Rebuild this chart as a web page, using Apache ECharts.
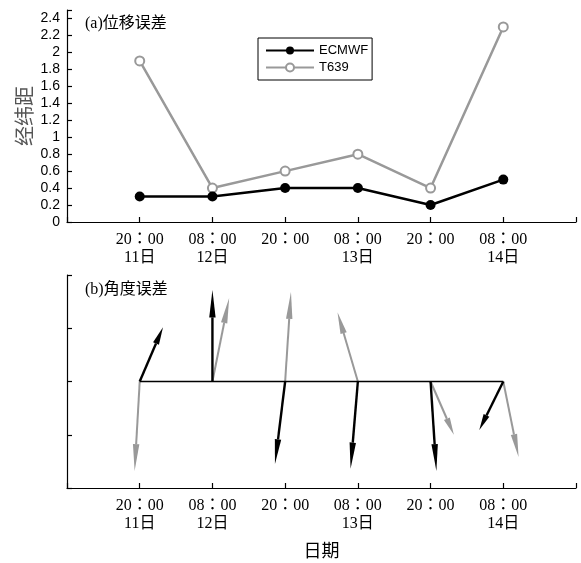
<!DOCTYPE html>
<html>
<head>
<meta charset="utf-8">
<script src="https://cdn.jsdelivr.net/npm/echarts@6/dist/echarts.min.js"></script>
<style>html,body{margin:0;padding:0;background:#fff;}#c{width:581px;height:563px;}</style>
</head>
<body>
<div id="c"></div>
<script>
// ---- data ----
var xPos = [1, 2, 3, 4, 5, 6];
var times = ['20：00', '08：00', '20：00', '08：00', '20：00', '08：00'];
var days = ['11日', '12日', '', '13日', '', '14日'];
var ecmwf = [0.3, 0.3, 0.4, 0.4, 0.2, 0.5];
var t639 = [1.9, 0.4, 0.6, 0.8, 0.4, 2.3];
// angle-error vectors (u = horizontal, v = vertical), in axis units
var ecU = [0.32, 0.00, -0.14, -0.10, 0.08, -0.33];
var ecV = [1.02, 1.72, -1.55, -1.64, -1.68, -0.91];
var tU = [-0.07, 0.23, 0.08, -0.28, 0.32, 0.21];
var tV = [-1.68, 1.57, 1.68, 1.30, -1.00, -1.42];

var GRAY = '#999999';
var serifCJK = 'Liberation Serif, Noto Sans CJK JP';

function tickLabel(v) {
  var i = xPos.indexOf(Math.round(v));
  if (i < 0 || Math.abs(v - Math.round(v)) > 1e-6) return '';
  return days[i] ? times[i] + '\n' + days[i] : times[i];
}

function zip(xs, ys) { return xs.map(function (x, i) { return [x, ys[i]]; }); }
function vecData(us, vs) { return xPos.map(function (x, i) { return [x, 0, us[i], vs[i]]; }); }

function arrowRender(color, lw) {
  return function (params, api) {
    var x0 = api.value(0), y0 = api.value(1), u = api.value(2), v = api.value(3);
    var p0 = api.coord([x0, y0]);
    var p1 = api.coord([x0 + u, y0 + v]);
    var dx = p1[0] - p0[0], dy = p1[1] - p0[1];
    var len = Math.sqrt(dx * dx + dy * dy);
    var ux = dx / len, uy = dy / len;
    var hl = len * 0.3, hw = 3.2;
    var bx = p1[0] - ux * hl, by = p1[1] - uy * hl;
    return {
      type: 'group',
      children: [
        { type: 'line', shape: { x1: p0[0], y1: p0[1], x2: bx, y2: by }, style: { stroke: color, lineWidth: lw } },
        { type: 'polygon', shape: { points: [[p1[0], p1[1]], [bx - uy * hw, by + ux * hw], [bx + uy * hw, by - ux * hw]] }, style: { fill: color } }
      ]
    };
  };
}

function axisLineStyle() { return { show: true, onZero: false, lineStyle: { color: '#000', width: 1.2 } }; }
var tickStyle = { inside: true, length: 5, lineStyle: { color: '#000', width: 1.2 } };
var xLabel = {
  formatter: tickLabel, color: '#000', fontFamily: serifCJK, fontSize: 16, lineHeight: 18, margin: 9
};

var chart = echarts.init(document.getElementById('c'));
chart.setOption({
  animation: false,
  backgroundColor: '#fff',
  title: [
    { text: '(a)位移误差', left: 85, top: 16, padding: 0, textStyle: { fontFamily: serifCJK, fontSize: 16, fontWeight: 'normal', color: '#000' } },
    { text: '(b)角度误差', left: 85, top: 282, padding: 0, textStyle: { fontFamily: serifCJK, fontSize: 16, fontWeight: 'normal', color: '#000' } }
  ],
  legend: {
    orient: 'vertical', left: 258, top: 38, itemWidth: 48, itemHeight: 10, itemGap: 4,
    padding: [6, 4, 6, 7], borderColor: '#000', borderWidth: 1,
    textStyle: { fontFamily: 'Liberation Sans', fontSize: 13, color: '#000' },
    data: ['ECMWF', 'T639']
  },
  grid: [
    { left: 67, right: 5, top: 10, height: 212 },
    { left: 67, right: 5, top: 275, height: 213 }
  ],
  xAxis: [
    { gridIndex: 0, type: 'value', min: 0, max: 7, interval: 1, axisLine: axisLineStyle(), axisTick: tickStyle, axisLabel: xLabel, splitLine: { show: false } },
    { gridIndex: 1, type: 'value', min: 0, max: 7, interval: 1, axisLine: axisLineStyle(), axisTick: tickStyle, axisLabel: xLabel, splitLine: { show: false },
      name: '日期', nameLocation: 'middle', nameGap: 55, nameMoveOverlap: false, nameTextStyle: { fontFamily: serifCJK, fontSize: 18, color: '#000' } }
  ],
  yAxis: [
    { gridIndex: 0, type: 'value', min: 0, max: 2.5, interval: 0.2, axisLine: axisLineStyle(), axisTick: tickStyle,
      splitLine: { show: false },
      axisLabel: { color: '#000', fontFamily: 'Liberation Sans', fontSize: 14, margin: 7,
        formatter: function (v) { var k = v * 5; return Math.abs(k - Math.round(k)) < 1e-6 ? String(+v.toFixed(1)) : ''; } },
      name: '经纬距', nameLocation: 'middle', nameRotate: 90, nameGap: 33, nameMoveOverlap: false,
      nameTextStyle: { fontFamily: 'Noto Sans CJK SC', fontSize: 20, color: '#555' } },
    { gridIndex: 1, type: 'value', min: -2, max: 2, interval: 1, axisLine: axisLineStyle(), axisTick: tickStyle,
      splitLine: { show: false }, axisLabel: { show: false } }
  ],
  series: [
    { name: 'ECMWF', type: 'line', xAxisIndex: 0, yAxisIndex: 0, data: zip(xPos, ecmwf),
      symbol: 'circle', symbolSize: 10, lineStyle: { color: '#000', width: 2.5 }, itemStyle: { color: '#000' }, z: 3 },
    { name: 'T639', type: 'line', xAxisIndex: 0, yAxisIndex: 0, data: zip(xPos, t639),
      symbol: 'emptyCircle', symbolSize: 9, lineStyle: { color: GRAY, width: 2.5 }, itemStyle: { color: GRAY, borderColor: GRAY, borderWidth: 2 }, z: 2 },
    { type: 'line', xAxisIndex: 1, yAxisIndex: 1, data: [[xPos[0], 0], [xPos[xPos.length - 1], 0]],
      symbol: 'none', lineStyle: { color: '#000', width: 1.5 }, silent: true },
    { type: 'custom', xAxisIndex: 1, yAxisIndex: 1, data: vecData(tU, tV), renderItem: arrowRender(GRAY, 2), encode: { x: 0, y: 1 }, z: 3 },
    { type: 'custom', xAxisIndex: 1, yAxisIndex: 1, data: vecData(ecU, ecV), renderItem: arrowRender('#000', 2.4), encode: { x: 0, y: 1 }, z: 4 }
  ]
});
</script>
</body>
</html>
